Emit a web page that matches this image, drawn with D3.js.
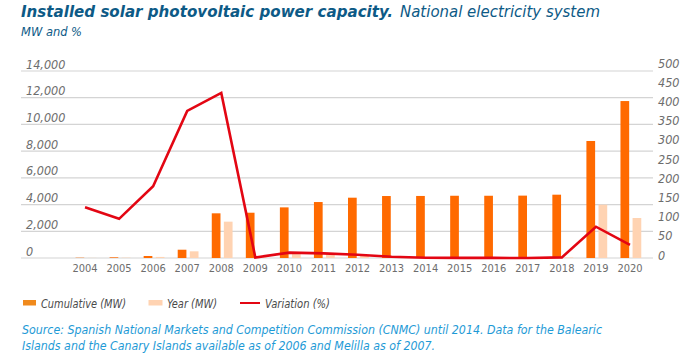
<!DOCTYPE html>
<html>
<head>
<meta charset="utf-8">
<script src="https://cdn.jsdelivr.net/npm/d3@7"></script>
<style>
  html, body { margin: 0; padding: 0; background: #ffffff; }
  svg { display: block; }
  text { font-family: "DejaVu Sans", "Liberation Sans", sans-serif; font-stretch: condensed; }
</style>
</head>
<body>
<svg id="chart" width="698" height="362"></svg>
<script>
const years = ["2004","2005","2006","2007","2008","2009","2010","2011","2012","2013","2014","2015","2016","2017","2018","2019","2020"];
const cumulativeMW = [22, 50, 150, 620, 3345, 3390, 3790, 4190, 4515, 4640, 4645, 4660, 4660, 4670, 4740, 8760, 11750];
const yearMW = [10, 25, 80, 500, 2720, 45, 360, 320, 220, 120, 8, 12, 6, 10, 40, 3990, 2995];
const variationPct = [132, 102, 187, 383, 430, 1.5, 14, 12, 8.6, 3.4, 0.5, 0.3, 0.2, 0.1, 1.5, 81.5, 34];
const leftTicks = [0, 2000, 4000, 6000, 8000, 10000, 12000, 14000];
const rightTicks = [0, 50, 100, 150, 200, 250, 300, 350, 400, 450, 500];
const seriesNames = ["Cumulative (MW)", "Year (MW)", "Variation (%)"];

const COL_CUM = "#ff6a00", COL_YEAR = "#ffd3b2", COL_VAR = "#e30613";
const svg = d3.select("#chart");

function fit(sel, w) { sel.attr("textLength", w).attr("lengthAdjust", "spacingAndGlyphs"); return sel; }

// Title
fit(svg.append("text").attr("x", 21).attr("y", 17).attr("font-size", 16).attr("font-weight", "bold")
  .attr("font-style", "italic").attr("fill", "#0d5a86").text("Installed solar photovoltaic power capacity."), 372);
fit(svg.append("text").attr("x", 400).attr("y", 17).attr("font-size", 16)
  .attr("font-style", "italic").attr("fill", "#0d5a86").text("National electricity system"), 200);
fit(svg.append("text").attr("x", 21).attr("y", 36).attr("font-size", 12)
  .attr("font-style", "italic").attr("fill", "#0d5a86").text("MW and %"), 61);

// Scales
const x = d3.scaleBand().domain(years).range([68, 647]).padding(0);
const sub = d3.scaleBand().domain(["cum", "year"]).range([-9.5, 11.3]).paddingInner(0.28);
const yL = d3.scaleLinear().domain([0, 14000]).range([258, 71]);
const yR = d3.scaleLinear().domain([0, 500]).range([258, 66]);

// Gridlines
svg.append("g").selectAll("line").data(leftTicks).join("line")
  .attr("x1", 21).attr("x2", 653)
  .attr("y1", d => yL(d)).attr("y2", d => yL(d))
  .attr("stroke", "#d4d4d4").attr("stroke-width", 1.2);

// Left axis labels
svg.append("g").selectAll("text").data(leftTicks).join("text")
  .attr("x", 26).attr("y", d => yL(d) - 2.5)
  .attr("font-size", 12.5).attr("font-style", "italic").attr("fill", "#6d6d6d")
  .text(d => d3.format(",")(d));

// Right axis labels
svg.append("g").selectAll("text").data(rightTicks).join("text")
  .attr("x", 658).attr("y", d => yR(d) + 1.5)
  .attr("font-size", 12.5).attr("font-style", "italic").attr("fill", "#6d6d6d")
  .text(d => d);

// X labels
svg.append("g").selectAll("text").data(years).join("text")
  .attr("x", d => x(d) + x.bandwidth() / 2).attr("y", 272)
  .attr("text-anchor", "middle").attr("font-size", 11).attr("fill", "#6d6d6d")
  .text(d => d);

// Bars
const cx = d => x(d) + x.bandwidth() / 2;
svg.append("g").selectAll("rect").data(years).join("rect")
  .attr("x", (d) => cx(d) + sub("cum")).attr("width", sub.bandwidth())
  .attr("y", (d, i) => yL(cumulativeMW[i])).attr("height", (d, i) => yL(0) - yL(cumulativeMW[i]))
  .attr("fill", COL_CUM);
svg.append("g").selectAll("rect").data(years).join("rect")
  .attr("x", (d) => cx(d) + sub("year")).attr("width", sub.bandwidth())
  .attr("y", (d, i) => yL(yearMW[i])).attr("height", (d, i) => yL(0) - yL(yearMW[i]))
  .attr("fill", COL_YEAR);

// Line
const line = d3.line().x((d, i) => cx(years[i])).y(d => yR(d));
svg.append("path").datum(variationPct).attr("d", line)
  .attr("fill", "none").attr("stroke", COL_VAR).attr("stroke-width", 2.6).attr("stroke-linejoin", "miter");

// Legend
const lg = svg.append("g");
lg.append("rect").attr("x", 23).attr("y", 300).attr("width", 13).attr("height", 5.5).attr("fill", "#f08a1c");
fit(lg.append("text").attr("x", 41).attr("y", 307.5).attr("font-size", 12).attr("font-style", "italic").attr("fill", "#4a4a4a").text(seriesNames[0]), 85);
lg.append("rect").attr("x", 148.5).attr("y", 300).attr("width", 14).attr("height", 5.5).attr("fill", COL_YEAR);
fit(lg.append("text").attr("x", 167).attr("y", 307.5).attr("font-size", 12).attr("font-style", "italic").attr("fill", "#4a4a4a").text(seriesNames[1]), 50);
lg.append("line").attr("x1", 240).attr("x2", 260).attr("y1", 303).attr("y2", 303).attr("stroke", COL_VAR).attr("stroke-width", 2);
fit(lg.append("text").attr("x", 265).attr("y", 307.5).attr("font-size", 12).attr("font-style", "italic").attr("fill", "#4a4a4a").text(seriesNames[2]), 65);

// Source
fit(svg.append("text").attr("x", 22).attr("y", 334).attr("font-size", 12).attr("font-style", "italic").attr("fill", "#1e9ad6")
  .text("Source: Spanish National Markets and Competition Commission (CNMC) until 2014. Data for the Balearic"), 580);
fit(svg.append("text").attr("x", 22).attr("y", 349.5).attr("font-size", 12).attr("font-style", "italic").attr("fill", "#1e9ad6")
  .text("Islands and the Canary Islands available as of 2006 and Melilla as of 2007."), 413);
</script>
</body>
</html>
